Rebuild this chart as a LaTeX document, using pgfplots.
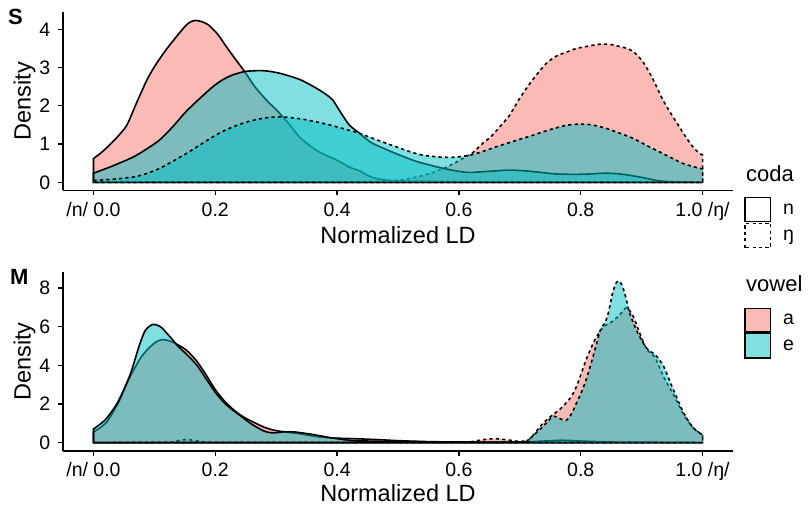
\documentclass[border=0pt]{standalone}
\usepackage{pgfplots}
\pgfplotsset{compat=1.18}
\usepackage{fontspec}
\setmainfont{Liberation Sans}
\definecolor{cpink}{HTML}{F8766D}
\definecolor{ccyan}{HTML}{00BFC4}
\newcommand{\tickfont}{\fontsize{19.5bp}{20bp}\selectfont}
\newcommand{\titlefont}{\fontsize{23.5bp}{24bp}\selectfont}
\newcommand{\legtitlefont}{\fontsize{22bp}{22bp}\selectfont}
\newcommand{\panelfont}{\fontsize{22bp}{22bp}\selectfont\bfseries}

\pgfplotsset{
  panel/.style={
    scale only axis, width=670bp, height=178.5bp,
    xmin=-0.05, xmax=1.05,
    axis x line*=bottom, axis y line*=left,
    axis line style={-, black, line width=1.7bp},
    tick align=outside, major tick length=5bp,
    every tick/.style={black, line width=1.3bp},
    xtick={0,0.2,0.4,0.6,0.8,1},
    xticklabels={/n/ 0.0, 0.2, 0.4, 0.6, 0.8, 1.0 /ŋ/},
    ticklabel style={font=\tickfont, text=black},
    xticklabel style={inner sep=0pt, text height=14bp, text depth=0pt, anchor=north, yshift=-7bp},
    yticklabel style={inner sep=0pt, anchor=east, xshift=-7.5bp},
    anchor=south west,
  },
  dens/.style={draw=black, line width=1.6bp, fill opacity=0.5, smooth, tension=0.45},
  nn/.style={solid},
  ng/.style={dash pattern=on 3.2bp off 3.2bp},
}

\begin{document}
\begin{tikzpicture}[x=1bp, y=1bp]
\useasboundingbox (0bp,0bp) rectangle (808bp,505bp);

% ---------------- S panel ----------------
\begin{axis}[panel, at={(63bp,314.5bp)},
  ymin=-0.212, ymax=4.452,
  ytick={0,1,2,3,4}, yticklabels={0,1,2,3,4}]
% a, n
\addplot[dens, nn, fill=cpink] coordinates {
(0,0.62)(0.013,0.78)(0.026,0.97)(0.04,1.2)(0.055,1.5)(0.07,2.05)(0.087,2.65)(0.10,3.02)(0.119,3.46)(0.141,3.9)(0.155,4.15)(0.166,4.23)(0.178,4.2)(0.19,4.1)(0.205,3.85)(0.218,3.55)(0.233,3.22)(0.248,2.9)(0.265,2.5)(0.284,2.15)(0.30,1.9)(0.311,1.71)(0.325,1.45)(0.338,1.19)(0.352,1.0)(0.366,0.84)(0.38,0.72)(0.393,0.63)(0.407,0.52)(0.42,0.4)(0.437,0.3)(0.453,0.16)(0.465,0.1)(0.48,0.06)(0.5,0.04)(0.55,0.03)(0.6,0.02)(0.7,0.02)(0.8,0.01)(0.9,0.01)(1,0)
} \closedcycle;
% a, ng
\addplot[dens, ng, fill=cpink] coordinates {
(0,0.01)(0.2,0.01)(0.4,0.01)(0.45,0.02)(0.497,0.05)(0.525,0.12)(0.552,0.23)(0.58,0.4)(0.606,0.62)(0.623,0.78)(0.639,1.02)(0.653,1.2)(0.667,1.45)(0.683,1.75)(0.70,2.2)(0.721,2.68)(0.743,3.1)(0.76,3.3)(0.776,3.4)(0.793,3.5)(0.809,3.55)(0.831,3.61)(0.85,3.6)(0.864,3.55)(0.876,3.5)(0.886,3.42)(0.897,3.25)(0.907,3.03)(0.92,2.65)(0.935,2.15)(0.948,1.8)(0.962,1.45)(0.974,1.15)(0.984,0.93)(0.992,0.8)(1,0.71)
} \closedcycle;
% e, n
\addplot[dens, nn, fill=ccyan] coordinates {
(0,0.24)(0.03,0.42)(0.065,0.66)(0.085,0.85)(0.108,1.1)(0.13,1.45)(0.152,1.85)(0.175,2.2)(0.196,2.5)(0.212,2.68)(0.229,2.81)(0.25,2.9)(0.273,2.92)(0.29,2.9)(0.311,2.83)(0.34,2.68)(0.366,2.46)(0.38,2.32)(0.393,2.15)(0.405,1.85)(0.42,1.5)(0.437,1.28)(0.455,1.05)(0.475,0.9)(0.497,0.75)(0.53,0.55)(0.568,0.39)(0.595,0.3)(0.617,0.26)(0.65,0.29)(0.683,0.32)(0.71,0.3)(0.735,0.26)(0.76,0.22)(0.79,0.21)(0.815,0.22)(0.84,0.24)(0.865,0.22)(0.897,0.14)(0.929,0.04)(0.96,0.01)(1,0)
} \closedcycle;
% e, ng
\addplot[dens, ng, fill=ccyan] coordinates {
(0,0.05)(0.03,0.08)(0.065,0.14)(0.085,0.22)(0.108,0.36)(0.13,0.55)(0.152,0.75)(0.175,0.98)(0.196,1.19)(0.212,1.33)(0.229,1.45)(0.25,1.57)(0.273,1.66)(0.29,1.7)(0.311,1.71)(0.34,1.66)(0.366,1.58)(0.388,1.5)(0.42,1.36)(0.437,1.28)(0.467,1.1)(0.497,0.93)(0.52,0.8)(0.541,0.71)(0.57,0.66)(0.596,0.66)(0.623,0.73)(0.645,0.84)(0.667,0.96)(0.695,1.1)(0.721,1.23)(0.75,1.38)(0.776,1.49)(0.795,1.52)(0.809,1.52)(0.825,1.48)(0.842,1.41)(0.865,1.28)(0.886,1.15)(0.91,0.95)(0.929,0.8)(0.95,0.63)(0.967,0.5)(0.985,0.41)(1,0.35)
} \closedcycle;
\end{axis}

% ---------------- M panel ----------------
\begin{axis}[panel, at={(63bp,54.3bp)},
  ymin=-0.42, ymax=8.82,
  ytick={0,2,4,6,8}, yticklabels={0,2,4,6,8}]
% a, n
\addplot[dens, nn, fill=cpink] coordinates {
(0,0.55)(0.02,1.0)(0.04,2.0)(0.06,3.4)(0.08,4.5)(0.10,5.15)(0.113,5.33)(0.13,5.2)(0.152,4.8)(0.17,4.2)(0.185,3.5)(0.2,2.74)(0.215,2.15)(0.23,1.7)(0.245,1.35)(0.26,1.1)(0.28,0.8)(0.295,0.65)(0.31,0.57)(0.34,0.45)(0.366,0.31)(0.39,0.24)(0.43,0.2)(0.47,0.15)(0.5,0.1)(0.55,0.05)(0.6,0.03)(0.7,0.02)(0.8,0.02)(0.9,0.01)(1,0)
} \closedcycle;
% a, ng
\addplot[dens, ng, fill=cpink] coordinates {
(0,0)(0.12,0.01)(0.135,0.08)(0.15,0.15)(0.165,0.12)(0.18,0.04)(0.2,0.01)(0.4,0.01)(0.6,0.02)(0.625,0.08)(0.645,0.17)(0.66,0.2)(0.68,0.14)(0.7,0.06)(0.715,0.15)(0.725,0.5)(0.738,1.0)(0.754,1.44)(0.765,1.7)(0.776,2.05)(0.785,2.4)(0.793,2.9)(0.8,3.5)(0.809,4.3)(0.817,4.9)(0.825,5.42)(0.836,5.94)(0.845,6.15)(0.853,6.29)(0.865,6.65)(0.875,6.98)(0.886,6.55)(0.897,5.65)(0.908,4.85)(0.922,4.4)(0.936,3.4)(0.952,2.5)(0.969,1.45)(0.985,0.75)(1,0.4)
} \closedcycle;
% e, n
\addplot[dens, nn, fill=ccyan] coordinates {
(0,0.7)(0.02,1.2)(0.04,2.1)(0.06,3.5)(0.075,5.0)(0.085,5.8)(0.097,6.11)(0.11,6.0)(0.125,5.5)(0.14,4.95)(0.152,4.6)(0.17,4.0)(0.185,3.3)(0.2,2.6)(0.215,2.05)(0.23,1.65)(0.245,1.3)(0.26,0.95)(0.28,0.6)(0.295,0.5)(0.31,0.55)(0.33,0.55)(0.36,0.42)(0.39,0.25)(0.42,0.12)(0.45,0.08)(0.5,0.05)(0.6,0.03)(0.7,0.03)(0.74,0.08)(0.77,0.12)(0.8,0.08)(0.85,0.03)(0.9,0.02)(1,0)
} \closedcycle;
% e, ng
\addplot[dens, ng, fill=ccyan] coordinates {
(0,0)(0.2,0.01)(0.5,0.01)(0.7,0.02)(0.712,0.1)(0.725,0.45)(0.738,0.83)(0.754,1.35)(0.765,1.25)(0.776,1.15)(0.785,1.5)(0.793,2.05)(0.801,2.6)(0.809,3.26)(0.817,4.1)(0.825,5.0)(0.833,5.9)(0.84,6.2)(0.846,6.8)(0.852,7.7)(0.857,8.2)(0.861,8.36)(0.865,8.3)(0.869,8.05)(0.875,7.4)(0.880,6.72)(0.891,5.85)(0.9,5.3)(0.908,4.9)(0.915,4.7)(0.922,4.56)(0.936,3.95)(0.952,2.74)(0.969,1.53)(0.985,0.75)(1,0.4)
} \closedcycle;
\end{axis}

% ---------------- labels ----------------
\node[font=\panelfont, anchor=base west, inner sep=0pt] at (8bp,480bp) {S};
\node[font=\panelfont, anchor=base west, inner sep=0pt] at (10bp,220bp) {M};
\node[font=\titlefont, anchor=base, inner sep=0pt, rotate=90] at (30.5bp,403.75bp) {Density};
\node[font=\titlefont, anchor=base, inner sep=0pt, rotate=90] at (30.5bp,143.5bp) {Density};
\node[font=\titlefont, anchor=base, inner sep=0pt] at (398bp,261bp) {Normalized LD};
\node[font=\titlefont, anchor=base, inner sep=0pt] at (398bp,4bp) {Normalized LD};

% ---------------- legends ----------------
\node[font=\legtitlefont, anchor=base west, inner sep=0pt] at (746bp,323.3bp) {coda};
\draw[black, line width=1.4bp, fill=white] (745bp,283.3bp) rectangle (770.7bp,307.7bp);
\draw[black, line width=1.4bp, fill=white, dash pattern=on 3.2bp off 3.2bp] (745bp,257.2bp) rectangle (770.7bp,281.7bp);
\node[font=\tickfont, anchor=base west, inner sep=0pt] at (783bp,290.5bp) {n};
\node[font=\tickfont, anchor=base west, inner sep=0pt] at (783bp,264.2bp) {ŋ};

\node[font=\legtitlefont, anchor=base west, inner sep=0pt] at (746bp,213bp) {vowel};
\draw[black, line width=1.4bp, fill=cpink, fill opacity=0.5] (745bp,173bp) rectangle (770.7bp,196.7bp);
\draw[black, line width=1.4bp, fill=ccyan, fill opacity=0.5] (745bp,147bp) rectangle (770.7bp,171.5bp);
\node[font=\tickfont, anchor=base west, inner sep=0pt] at (783bp,180bp) {a};
\node[font=\tickfont, anchor=base west, inner sep=0pt] at (783bp,154.3bp) {e};
\end{tikzpicture}
\end{document}
